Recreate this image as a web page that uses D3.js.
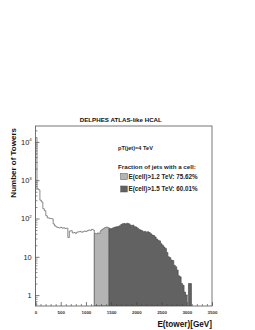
<!DOCTYPE html>
<html>
<head>
<meta charset="utf-8">
<script src="https://cdn.jsdelivr.net/npm/d3@7"></script>
<style>
  html, body { margin: 0; padding: 0; background: #fff; }
  svg { display: block; font-family: "Liberation Sans", Arial, sans-serif; }
</style>
</head>
<body>
<div id="chart"></div>
<script>
// tower energy histogram, 120 bins from 0 to 3500 GeV
const eMax = 3500
const nBins = 120
const counts = [
  13000, 600, 560, 300, 270, 180, 160, 118, 104, 102,
  100, 98, 72, 64, 60, 58, 57, 59, 56, 57,
  55, 56, 32, 47, 48, 42, 43, 41, 44, 45,
  46, 44, 45, 47, 46, 48, 50, 49, 52, 50,
  41, 40, 42, 41, 48, 52, 55, 58, 60, 58,
  55, 54, 56, 58, 60, 61, 62, 65, 70, 73,
  74, 72, 75, 73, 68, 66, 67, 61, 60, 56,
  52, 50, 48, 45, 46, 44, 45, 43, 40, 37,
  36, 33, 29, 27, 26, 22, 20, 18, 16.5, 13,
  10, 9.5, 8.2, 8, 6, 5.5, 4.5, 3.2, 3, 2,
  1.8, 1.2, 1, 1, 2, 2, 0, 0, 0, 0,
  0, 0, 0, 0, 0, 0, 0, 0, 0, 0
]
const lightCut = 1166.7   // start of light fill
const darkCut = 1458.3    // start of dark fill
const lightOnlyBins = [103]

const xTicks = [0, 500, 1000, 1500, 2000, 2500, 3000, 3500]
const yTicks = [1, 10, 100, 1000, 10000]
const yLabels = [["1", ""], ["10", ""], ["10", "2"], ["10", "3"], ["10", "4"]]

const title = "DELPHES ATLAS-like HCAL"
const legendHead = "pT(jet)=4 TeV"
const legendSub = "Fraction of jets with a cell:"
const legendItems = ["E(cell)>1.2 TeV: 75.62%", "E(cell)>1.5 TeV: 60.01%"]

const W = 255, H = 330
const frame = { left: 35.5, right: 212, top: 126, bottom: 306 }
const lightFill = "#b4b4b4", darkFill = "#626262", lineGrey = "#7a7a7a"

const svg = d3.select("#chart").append("svg")
  .attr("width", W).attr("height", H)

const x = d3.scaleLinear().domain([0, eMax]).range([frame.left, frame.right])
const y = d3.scaleLog().domain([0.52, 26000]).range([frame.bottom, frame.top])

const bw = eMax / nBins
const bins = counts.map((v, i) => {
  const e0 = i * bw
  let kind = "none"
  if (e0 >= darkCut - 1) kind = "dark"
  else if (e0 >= lightCut - 1) kind = "light"
  if (lightOnlyBins.includes(i)) kind = "light"
  return { i, e0, e1: e0 + bw, v, kind }
})

svg.append("clipPath").attr("id", "clip")
  .append("rect")
  .attr("x", frame.left).attr("y", frame.top)
  .attr("width", frame.right - frame.left).attr("height", frame.bottom - frame.top)

const g = svg.append("g").attr("clip-path", "url(#clip)")
const yv = v => v > 0 ? y(v) : frame.bottom

// step outline points for a set of bins (starts and ends at the bottom)
const stepPts = sel => {
  const pts = [[x(sel[0].e0), frame.bottom]]
  sel.forEach(d => {
    const k = d.kind === "hole" ? frame.bottom : yv(d.v)
    pts.push([x(d.e0), k]); pts.push([x(d.e1), k])
  })
  pts.push([x(sel[sel.length - 1].e1), frame.bottom])
  return pts
}

// filled regions, one path per fill kind
const lightSel = bins.filter(d => d.e0 >= lightCut - 1 && d.e0 < darkCut - 1)
const darkSel = bins.filter(d => d.e0 >= darkCut - 1 && d.v > 0)
  .map(d => d.kind === "light" ? { ...d, kind: "hole" } : d)
const tailSel = bins.filter(d => d.e0 >= darkCut - 1 && d.kind === "light")

;[[lightSel, lightFill, "#6a6a6a"], [darkSel, darkFill, "#4a4a4a"], [tailSel, lightFill, "#6a6a6a"]]
  .forEach(([sel, fill, col]) => {
    if (!sel.length) return
    g.append("path")
      .attr("d", d3.line()(stepPts(sel)) + "Z")
      .attr("fill", fill).attr("stroke", col).attr("stroke-width", 0.7)
  })

// outline of the unfilled part of the histogram
g.append("path")
  .attr("d", d3.line()(stepPts(bins.filter(d => d.kind === "none" && d.e0 < lightCut))))
  .attr("fill", "none").attr("stroke", lineGrey).attr("stroke-width", 0.9)

// axes: ticks drawn inside the frame
const axisColor = "#444"
const xMinor = d3.range(0, eMax + 1, 100).filter(v => v % 500 !== 0)
svg.append("g")
  .attr("transform", `translate(0,${frame.bottom})`)
  .call(d3.axisBottom(x).tickValues(xMinor).tickSize(-2).tickFormat(""))
  .call(a => a.select(".domain").remove())
  .selectAll("line").attr("stroke", axisColor).attr("stroke-width", 0.6)

svg.append("g")
  .attr("transform", `translate(0,${frame.bottom})`)
  .call(d3.axisBottom(x).tickValues(xTicks).tickSize(-4).tickPadding(5.2).tickFormat(d3.format("d")))
  .call(a => a.select(".domain").remove())
  .call(a => a.selectAll("line").attr("stroke", axisColor).attr("stroke-width", 0.7))
  .call(a => a.selectAll("text")
    .attr("font-size", 4.4).attr("font-weight", "bold").attr("fill", "#333")
    .attr("font-family", "Liberation Sans, Arial, sans-serif"))

const yMinor = []
for (let p = -1; p <= 4; p++) {
  for (let k = 2; k <= 9; k++) {
    const v = k * Math.pow(10, p)
    if (v > y.domain()[0] && v < y.domain()[1]) yMinor.push(v)
  }
}
svg.append("g")
  .attr("transform", `translate(${frame.left},0)`)
  .call(d3.axisLeft(y).tickValues(yMinor).tickSize(-2).tickFormat(""))
  .call(a => a.select(".domain").remove())
  .selectAll("line").attr("stroke", axisColor).attr("stroke-width", 0.6)

const yAx = svg.append("g")
  .attr("transform", `translate(${frame.left},0)`)
  .call(d3.axisLeft(y).tickValues(yTicks).tickSize(-4).tickFormat(""))
yAx.select(".domain").remove()
yAx.selectAll("line").attr("stroke", axisColor).attr("stroke-width", 0.7)

yTicks.forEach((v, i) => {
  const [base, exp] = yLabels[i]
  svg.append("text")
    .attr("x", exp ? frame.left - 6.2 : frame.left - 3.8)
    .attr("y", y(v) + 2.7)
    .attr("text-anchor", "end")
    .attr("font-size", 7.4).attr("fill", "#222")
    .text(base)
  if (exp) {
    svg.append("text")
      .attr("x", frame.left - 6.2).attr("y", y(v) - 0.6)
      .attr("font-size", 4.4).attr("fill", "#222")
      .text(exp)
  }
})

// frame
svg.append("rect")
  .attr("x", frame.left).attr("y", frame.top)
  .attr("width", frame.right - frame.left).attr("height", frame.bottom - frame.top)
  .attr("fill", "none").attr("stroke", "#555").attr("stroke-width", 0.8)

// titles
svg.append("text")
  .attr("x", 120.8).attr("y", 121.5)
  .attr("text-anchor", "middle")
  .attr("font-size", 6.2).attr("font-weight", "bold").attr("fill", "#111")
  .text(title)

svg.append("text")
  .attr("transform", `translate(16,${frame.top + 2}) rotate(-90)`)
  .attr("text-anchor", "end")
  .attr("font-size", 8).attr("font-weight", "bold").attr("fill", "#111")
  .text("Number of Towers")

svg.append("text")
  .attr("x", frame.right).attr("y", 327)
  .attr("text-anchor", "end")
  .attr("font-size", 8.2).attr("font-weight", "bold").attr("fill", "#111")
  .text("E(tower)[GeV]")

// legend
svg.append("text")
  .attr("x", 118).attr("y", 149.5)
  .attr("font-size", 5.6).attr("font-weight", "bold").attr("fill", "#222")
  .text(legendHead)

svg.append("text")
  .attr("x", 118).attr("y", 169)
  .attr("font-size", 6.2).attr("font-weight", "bold").attr("fill", "#222")
  .text(legendSub)

legendItems.forEach((label, i) => {
  const cy = 176.5 + i * 12.5
  svg.append("rect")
    .attr("x", 120.7).attr("y", cy - 3)
    .attr("width", 6.6).attr("height", 6)
    .attr("fill", i === 0 ? lightFill : darkFill)
    .attr("stroke", "#555").attr("stroke-width", 0.5)
  svg.append("text")
    .attr("x", 128.5).attr("y", cy + 2.1)
    .attr("font-size", 6.3).attr("font-weight", "bold").attr("fill", "#222")
    .text(label)
})
</script>
</body>
</html>
